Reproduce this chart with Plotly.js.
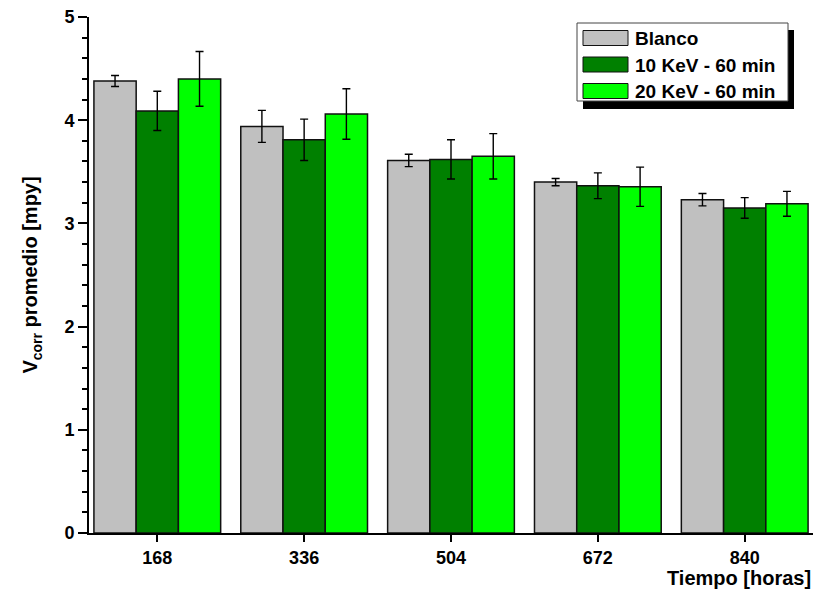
<!DOCTYPE html>
<html>
<head>
<meta charset="utf-8">
<script src="https://cdn.plot.ly/plotly-3.0.1.min.js"></script>
<style>html,body{margin:0;padding:0;background:#fff;}#chart{width:814px;height:592px;}</style>
</head>
<body>
<div id="chart"></div>
<script>
// ---- data ----
const categories = ['168', '336', '504', '672', '840'];
const seriesNames = ['Blanco', '10 KeV - 60 min', '20 KeV - 60 min'];
const blanco = [4.38, 3.94, 3.61, 3.40, 3.23];
const blancoErr = [0.053, 0.155, 0.06, 0.035, 0.06];
const kev10 = [4.09, 3.81, 3.62, 3.365, 3.15];
const kev10Err = [0.19, 0.20, 0.19, 0.125, 0.10];
const kev20 = [4.40, 4.06, 3.65, 3.355, 3.19];
const kev20Err = [0.265, 0.245, 0.22, 0.19, 0.12];
const xTitle = 'Tiempo [horas]';
const yTitle = 'V<sub>corr</sub> promedio [mpy]';

const colors = ['#C0C0C0', '#008000', '#00FF00'];
const FONT = '"Liberation Sans", Arial, sans-serif';

const values = [blanco, kev10, kev20];
const errs = [blancoErr, kev10Err, kev20Err];

const traces = values.map((v, i) => ({
  type: 'bar',
  name: seriesNames[i],
  x: categories,
  y: v,
  marker: {color: colors[i], line: {color: '#111', width: 1.5}},
  error_y: {type: 'data', array: errs[i], visible: true, color: '#000', thickness: 1.4, width: 4},
  showlegend: false
}));

// plot area in pixels
const L = 89, R = 1, T = 17, B = 59, W = 814, H = 592;
const pw = W - L - R, ph = H - T - B;
const px = x => (x - L) / pw;
const py = y => (T + ph - y) / ph;

const shapes = [];
const annotations = [];
// legend shadow + box
shapes.push({type: 'rect', xref: 'paper', yref: 'paper', x0: px(583), x1: px(794), y0: py(109), y1: py(30),
  fillcolor: '#000', line: {width: 0}});
shapes.push({type: 'rect', xref: 'paper', yref: 'paper', x0: px(577), x1: px(788), y0: py(101), y1: py(23),
  fillcolor: '#fff', line: {color: '#444', width: 1}});
seriesNames.forEach((n, i) => {
  const cy = 38 + i * 26.5;
  shapes.push({type: 'rect', xref: 'paper', yref: 'paper', x0: px(583), x1: px(628), y0: py(cy + 7.5), y1: py(cy - 7.5),
    fillcolor: colors[i], line: {color: '#111', width: 1}});
  annotations.push({xref: 'paper', yref: 'paper', x: px(633), y: py(cy + 0.5), xanchor: 'left', yanchor: 'middle',
    text: n, showarrow: false, font: {family: FONT, size: 19, color: '#000', weight: 'bold'}});
});
annotations.push({xref: 'paper', yref: 'paper', x: 1, y: py(578), xanchor: 'right', yanchor: 'middle',
  text: xTitle, showarrow: false, font: {family: FONT, size: 20, color: '#000', weight: 'bold'}});

const layout = {
  width: W, height: H,
  margin: {l: L, r: R, t: T, b: B, pad: 0},
  paper_bgcolor: '#fff', plot_bgcolor: '#fff',
  font: {family: FONT, color: '#000'},
  barmode: 'group', bargap: 0.137, bargroupgap: 0,
  showlegend: false,
  xaxis: {
    type: 'category', range: [-0.465, 4.465], showgrid: false, zeroline: false,
    showline: true, linecolor: '#000', linewidth: 2,
    ticks: 'outside', ticklen: 7, tickwidth: 2, tickcolor: '#000',
    tickfont: {family: FONT, size: 18, color: '#000', weight: 'bold'},
    automargin: false
  },
  yaxis: {
    range: [0, 5], dtick: 1, showgrid: false, zeroline: false,
    showline: true, linecolor: '#000', linewidth: 2,
    ticks: 'outside', ticklen: 9, tickwidth: 2, tickcolor: '#000',
    minor: {dtick: 0.2, ticks: 'outside', ticklen: 5, tickwidth: 2, tickcolor: '#000', showgrid: false},
    tickfont: {family: FONT, size: 18, color: '#000', weight: 'bold'},
    title: {text: yTitle, standoff: 21, font: {family: FONT, size: 20, color: '#000', weight: 'bold'}},
    automargin: false
  },
  shapes: shapes,
  annotations: annotations
};

Plotly.newPlot('chart', traces, layout, {displayModeBar: false, staticPlot: true});
</script>
</body>
</html>
